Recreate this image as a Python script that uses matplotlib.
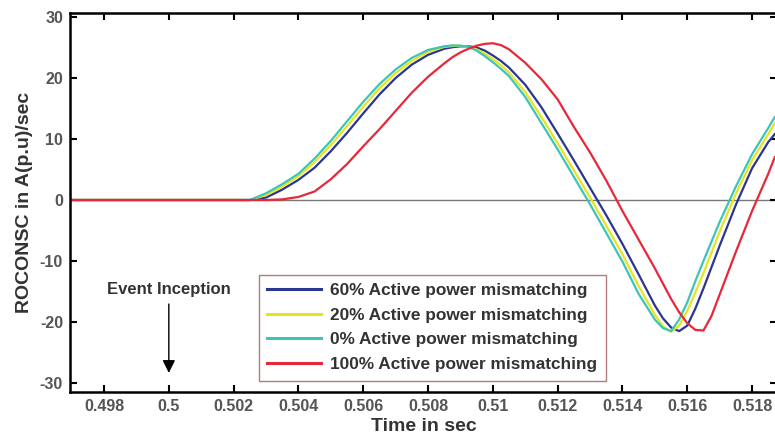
import matplotlib
matplotlib.use("Agg")
import matplotlib.pyplot as plt

plt.rcParams['font.family'] = ['Liberation Sans', 'DejaVu Sans']
plt.rcParams['font.weight'] = 'bold'
plt.rcParams['axes.unicode_minus'] = False

# time axis (s) shared by all four traces
t = [0.4969, 0.5020, 0.5025, 0.5030, 0.5035, 0.5040, 0.5045, 0.5050, 0.5055,
     0.5060, 0.5065, 0.5070, 0.5075, 0.5080, 0.5085, 0.50875, 0.5090, 0.50925,
     0.5095, 0.50975, 0.5100, 0.51025, 0.5105, 0.5110, 0.5115, 0.5120, 0.5125,
     0.5130, 0.5135, 0.5140, 0.5145, 0.5150, 0.51525, 0.5155, 0.51575, 0.5160,
     0.51625, 0.5165, 0.51675, 0.5170, 0.5175, 0.5180, 0.5185, 0.5187]

rocon_60 = [0, 0, 0, 0.4, 1.7, 3.3, 5.3, 8.0, 11.0, 14.2, 17.3, 20.0, 22.2,
            23.8, 24.8, 25.05, 25.2, 25.2, 25.0, 24.5, 23.7, 22.8, 21.7, 18.9,
            15.2, 10.9, 6.5, 2.0, -2.5, -7.2, -12.2, -17.3, -19.4, -20.9, -21.5,
            -20.6, -17.8, -14.5, -11.0, -7.5, -0.8, 5.2, 9.5, 10.8]
rocon_20 = [0, 0, 0, 0.8, 2.2, 3.9, 6.2, 9.0, 12.1, 15.3, 18.3, 20.8, 22.8,
            24.3, 25.1, 25.25, 25.3, 25.1, 24.7, 24.0, 23.1, 22.1, 20.9, 17.7,
            13.6, 9.3, 4.9, 0.4, -4.2, -8.9, -14.1, -18.8, -20.7, -21.6, -20.6,
            -18.2, -15.2, -12.0, -8.6, -5.2, 1.0, 6.5, 10.8, 12.6]
rocon_0 = [0, 0, 0, 1.1, 2.6, 4.3, 6.8, 9.7, 12.9, 16.1, 19.0, 21.4, 23.3,
           24.6, 25.2, 25.35, 25.3, 25.1, 24.5, 23.6, 22.6, 21.5, 20.3, 16.9,
           12.6, 8.3, 3.8, -0.7, -5.4, -10.1, -15.4, -19.6, -21.0, -21.5, -19.6,
           -16.8, -13.3, -10.0, -6.8, -3.6, 2.2, 7.5, 11.8, 13.6]
rocon_100 = [0, 0, 0, 0, 0.1, 0.5, 1.4, 3.4, 5.9, 8.8, 11.6, 14.6, 17.6,
             20.2, 22.4, 23.4, 24.2, 24.8, 25.3, 25.6, 25.7, 25.4, 24.7, 22.5,
             19.8, 16.5, 12.0, 7.8, 3.2, -1.8, -6.5, -11.2, -13.7, -16.2, -18.4,
             -20.2, -21.3, -21.4, -19.0, -15.5, -8.5, -1.8, 4.3, 7.0]

labels = ["60% Active power mismatching", "20% Active power mismatching",
          "0% Active power mismatching", "100% Active power mismatching"]
colors = ["#2b3592", "#e8e41c", "#3cc4bc", "#e6283a"]

xticks = [0.498, 0.500, 0.502, 0.504, 0.506, 0.508, 0.510, 0.512, 0.514, 0.516, 0.518]
yticks = [-30, -20, -10, 0, 10, 20, 30]

fig = plt.figure(figsize=(7.75, 4.43), dpi=100)
ax = fig.add_axes([70 / 775, 51 / 443, 707 / 775, 379 / 443])

ax.axhline(0, color="#777777", lw=1.0, zorder=1)
for y, lab, c in zip([rocon_60, rocon_20, rocon_0, rocon_100], labels, colors):
    ax.plot(t, y, color=c, lw=1.6, label=lab, zorder=2)

ax.set_xlim(0.49695, 0.51877)
ax.set_ylim(-31.48, 30.66)
ax.set_xticks(xticks)
ax.set_xticklabels(["%g" % v for v in xticks])
ax.set_yticks(yticks)
ax.tick_params(direction="in", top=True, right=True, length=5, width=1.5,
               labelsize=11.5, labelcolor="#555555", pad=5)
for s in ax.spines.values():
    s.set_linewidth(1.8)

ax.set_xlabel("Time in sec", fontsize=14, fontweight="bold", color="#333333", labelpad=3)
ax.set_ylabel("ROCONSC in A(p.u)/sec", fontsize=14, fontweight="bold", color="#333333", labelpad=5)

ax.text(0.5, -14.7, "Event Inception", ha="center", va="center", fontsize=12,
        color="#333333")
ax.annotate("", xy=(0.5, -28.8), xytext=(0.5, -16.6),
            arrowprops=dict(arrowstyle="-|>", color="black", lw=1.0, mutation_scale=19))

leg = ax.legend(loc="lower left", bbox_to_anchor=(0.267, 0.03), fontsize=12.4,
                frameon=True, fancybox=False, handlelength=3.1, handletextpad=0.55,
                labelspacing=0.55, borderpad=0.5, borderaxespad=0)
leg.get_frame().set_edgecolor("#a05a5a")
leg.get_frame().set_linewidth(1.0)
for txt in leg.get_texts():
    txt.set_color("#333333")
for line in leg.get_lines():
    line.set_linewidth(2.2)

fig.savefig("out.png", dpi=100)
